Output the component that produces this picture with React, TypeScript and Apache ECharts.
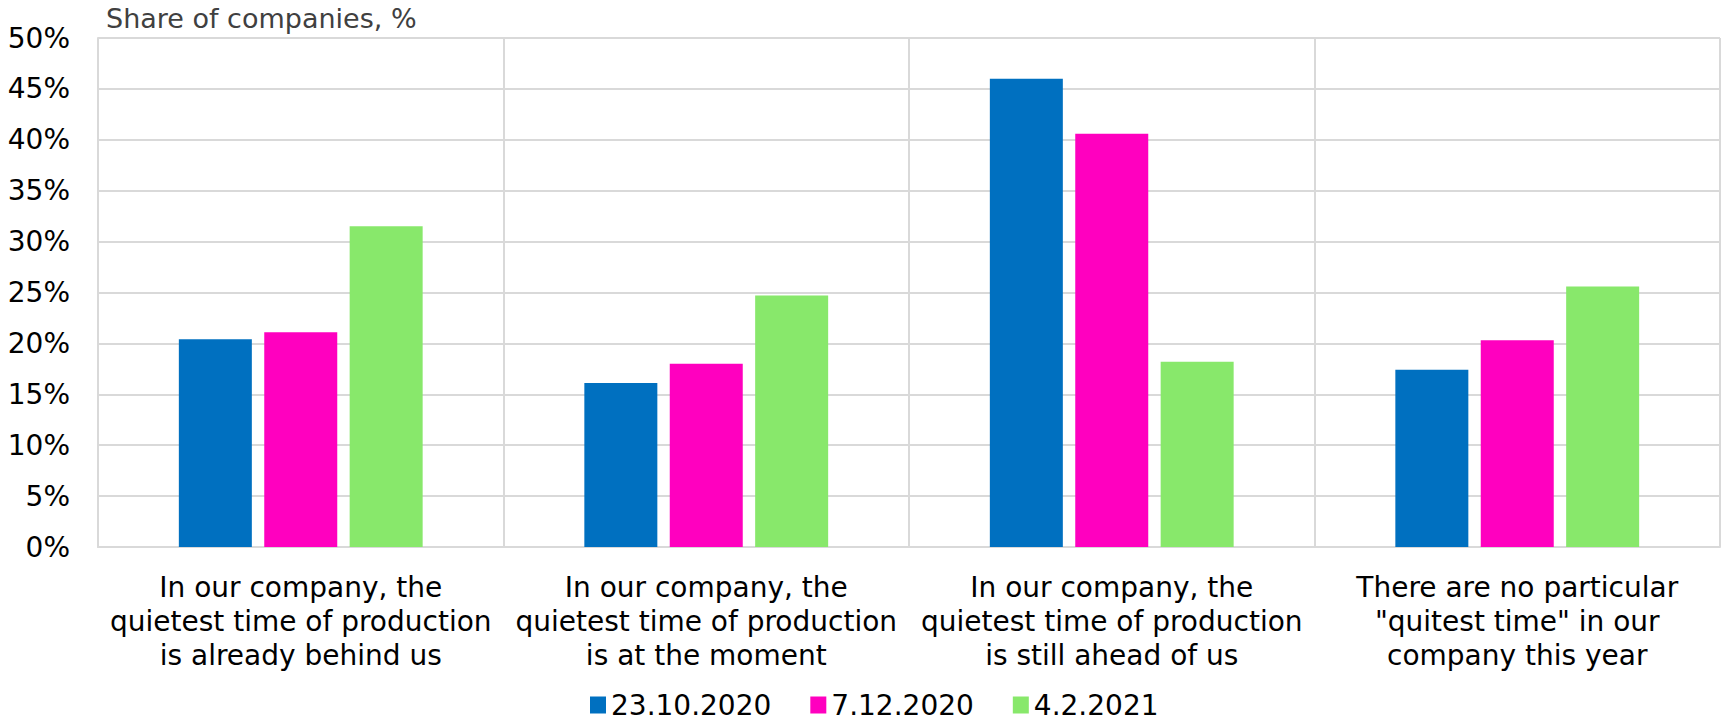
import React, { useEffect, useRef } from "react";
import * as echarts from "echarts";

const categories = [
  "In our company, the\nquietest time of production\nis already behind us",
  "In our company, the\nquietest time of production\nis at the moment",
  "In our company, the\nquietest time of production\nis still ahead of us",
  "There are no particular\n\"quitest time\" in our\ncompany this year",
];
const seriesNames = ["23.10.2020", "7.12.2020", "4.2.2021"];
const values2310 = [20.4, 16.1, 46.0, 17.4];
const values0712 = [21.1, 18.0, 40.6, 20.3];
const values0402 = [31.5, 24.7, 18.2, 25.6];
const colors = ["#0070c0", "#ff00bf", "#88e86b"];
const yTicks = { min: 0, max: 50, interval: 5 };

const FONT = "'DejaVu Sans', Verdana, sans-serif";
const GRID_COLOR = "#d9d9d9";

export default function App() {
  const ref = useRef<HTMLDivElement>(null);
  useEffect(() => {
    document.body.style.margin = "0";
    if (!ref.current) return;
    const chart = echarts.init(ref.current, undefined, { renderer: "svg" });
    const data = [values2310, values0712, values0402];
    chart.setOption({
      animation: false,
      textStyle: { fontFamily: FONT },
      title: {
        text: "Share of companies, %",
        left: 101,
        top: 0,
        textStyle: { fontFamily: FONT, fontSize: 27, fontWeight: "normal", color: "#404040" },
      },
      legend: {
        data: seriesNames,
        left: 590,
        top: 691,
        padding: 0,
        itemWidth: 16,
        itemHeight: 17,
        itemGap: 39,
        icon: "rect",
        textStyle: { fontFamily: FONT, fontSize: 28, lineHeight: 28, color: "#000" },
      },
      grid: { left: 98, right: 1, top: 38, bottom: 177, containLabel: false },
      xAxis: {
        type: "category",
        data: categories,
        axisTick: { show: false },
        axisLine: { show: true, lineStyle: { color: GRID_COLOR, width: 2 } },
        splitLine: { show: true, lineStyle: { color: GRID_COLOR, width: 2 } },
        axisLabel: {
          interval: 0,
          margin: 23,
          fontFamily: FONT,
          fontSize: 28,
          lineHeight: 34,
          color: "#000",
          align: "center",
        },
      },
      yAxis: {
        type: "value",
        min: yTicks.min,
        max: yTicks.max,
        interval: yTicks.interval,
        axisLine: { show: true, lineStyle: { color: GRID_COLOR, width: 2 } },
        axisTick: { show: false },
        splitLine: { show: true, lineStyle: { color: GRID_COLOR, width: 2 } },
        axisLabel: {
          formatter: "{value}%",
          margin: 28,
          fontFamily: FONT,
          fontSize: 28,
          color: "#000",
        },
      },
      series: seriesNames.map((name, i) => ({
        name,
        type: "bar",
        data: data[i],
        barWidth: 73,
        barGap: "17%",
        itemStyle: { color: colors[i] },
      })),
    });
    return () => chart.dispose();
  }, []);
  return <div ref={ref} style={{ width: 1721, height: 724 }} />;
}
